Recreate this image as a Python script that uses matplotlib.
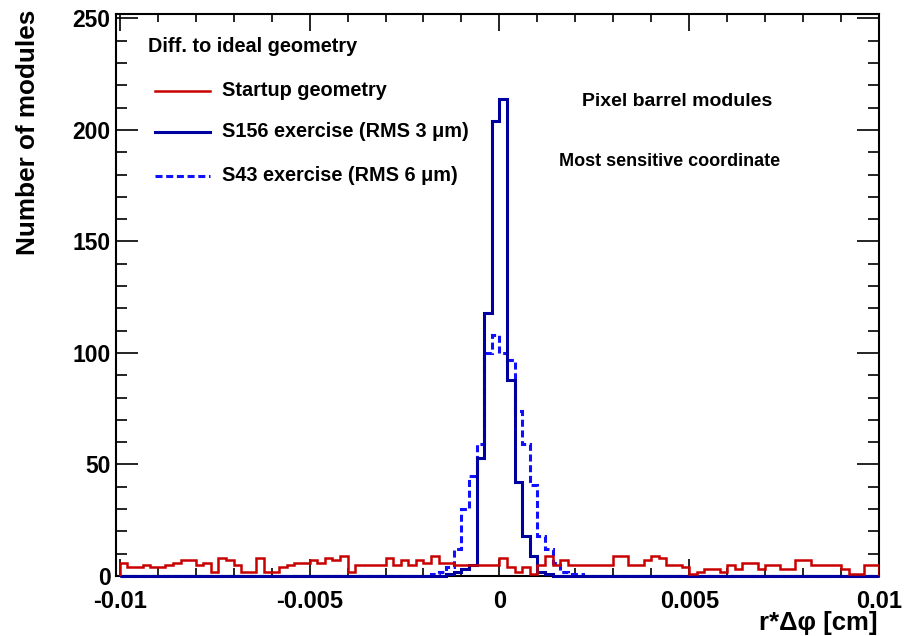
import matplotlib
matplotlib.use("Agg")
import matplotlib.pyplot as plt
import numpy as np
from matplotlib.ticker import MultipleLocator, FuncFormatter

# --- histogram binning: 100 bins over [-0.01, 0.01] cm ---
x_min, x_max, n_bins = -0.01, 0.01, 100

# --- counts per bin ---
startup_counts = [
    6, 4, 4, 5, 4, 4, 5, 6, 7, 7,
    5, 6, 2, 8, 7, 5, 2, 2, 8, 2,
    2, 4, 5, 6, 6, 7, 6, 8, 7, 9,
    2, 5, 5, 5, 5, 8, 5, 7, 5, 7,
    6, 9, 6, 6, 5, 5, 5, 5, 5, 5,
    8, 4, 2, 4, 1, 5, 9, 5, 7, 5,
    5, 5, 5, 5, 5, 9, 9, 5, 5, 7,
    9, 8, 5, 5, 4, 1, 2, 3, 3, 2,
    5, 3, 6, 6, 3, 5, 5, 3, 3, 7,
    7, 5, 5, 5, 5, 3, 1, 1, 5, 5,
]
s156_counts = [0] * 100
s156_counts[43:57] = [1, 2, 3, 5, 53, 118, 204, 214, 88, 42, 18, 9, 2, 1]
s43_counts = [0] * 100
s43_counts[41:61] = [1, 2, 4, 12, 30, 45, 59, 100, 108, 100,
                     97, 74, 59, 41, 18, 12, 6, 2, 1, 1]

labels = ["Startup geometry", "S156 exercise (RMS 3 \u03bcm)",
          "S43 exercise (RMS 6 \u03bcm)"]

plt.rcParams["font.family"] = ["Liberation Sans", "DejaVu Sans"]
plt.rcParams["font.weight"] = "bold"

W, H = 906, 636
fig = plt.figure(figsize=(W / 100, H / 100), dpi=100)
ax = fig.add_axes([116 / W, 1 - 576 / H, (879 - 116) / W, (576 - 14) / H])


def px(x, y):
    return x / W, 1 - y / H


edges = np.linspace(x_min, x_max, n_bins + 1)
red = "#c80000"
navy = "#0000a0"
blue = "#1010ff"
dash = (0, (2.3, 1.2))

ax.stairs(s43_counts, edges, color=blue, lw=2.2, linestyle=dash,
          zorder=3, clip_on=False)
ax.stairs(s156_counts, edges, color=navy, lw=2.2, zorder=3, clip_on=False)
ax.stairs(startup_counts, edges, color=red, lw=1.8, zorder=3.5)

ax.set_xlim(-0.0101, 0.01)
ax.set_ylim(0, 252)

ax.xaxis.set_major_locator(MultipleLocator(0.005))
ax.xaxis.set_minor_locator(MultipleLocator(0.001))
ax.yaxis.set_major_locator(MultipleLocator(50))
ax.yaxis.set_minor_locator(MultipleLocator(10))
ax.xaxis.set_major_formatter(FuncFormatter(lambda v, p: "0" if abs(v) < 1e-9 else f"{v:g}"))

ax.tick_params(axis="both", which="both", direction="in", top=True, right=True,
               width=1.2, labelsize=17)
ax.tick_params(axis="y", labelsize=16.5)
ax.tick_params(axis="x", which="major", length=12, pad=10)
ax.tick_params(axis="x", which="minor", length=5.5)
ax.tick_params(axis="y", which="major", length=16, pad=4)
ax.tick_params(axis="y", which="minor", length=8)
for s in ax.spines.values():
    s.set_linewidth(1.5)
    s.set_zorder(2.5)

fig.text(*px(28, 132), "Number of modules", rotation=90, ha="center", va="center",
         fontsize=18.8, fontweight="bold")
fig.text(*px(878, 623), "r*\u0394\u03c6 [cm]", ha="right", va="center",
         fontsize=18.5, fontweight="bold")

fig.text(*px(148, 46), "Diff. to ideal geometry", ha="left", va="center",
         fontsize=14.3, fontweight="bold")
legend_y = [91, 132, 176]
legend_style = [(red, "-", 1.8), (navy, "-", 2.2), (blue, dash, 2.2)]
for yy, lab, (c, ls, lw) in zip(legend_y, labels, legend_style):
    x0, y0 = px(155, yy)
    x1, _ = px(210, yy)
    fig.add_artist(plt.Line2D([x0, x1], [y0, y0], color=c, linestyle=ls, lw=lw,
                              transform=fig.transFigure))
    fig.text(*px(222, yy), lab, ha="left", va="center", fontsize=14.3,
             fontweight="bold")

fig.text(*px(677, 101), "Pixel barrel modules", ha="center", va="center",
         fontsize=14, fontweight="bold")
fig.text(*px(670, 161), "Most sensitive coordinate", ha="center", va="center",
         fontsize=13, fontweight="bold")

fig.savefig("out.png", dpi=100)
